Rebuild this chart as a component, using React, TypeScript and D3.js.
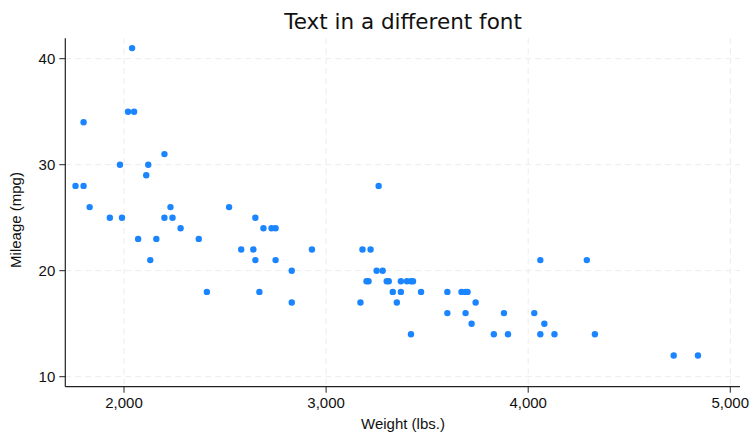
import React from "react";
import * as d3 from "d3";

const weight = [2930,3350,2640,3250,4080,3670,2230,3280,3880,3400,4330,3900,4290,2110,3690,3180,3220,2750,3430,2120,3600,3600,3740,1800,2650,4840,4720,3830,2580,4060,3720,3370,4130,2830,4060,3310,3300,3690,3370,2730,4030,3260,1800,2200,2520,3330,3700,3470,3210,3200,3420,2690,2830,2070,2650,2370,2020,2280,2750,2130,2240,1760,1980,3420,1830,2050,2410,2200,2670,2160,2040,1930,1990,3170];
const mpg = [22,17,22,20,15,18,26,20,16,19,14,14,21,29,16,22,22,24,19,30,18,16,17,28,21,12,12,14,22,14,15,18,14,20,21,19,19,18,19,24,16,28,34,25,26,18,18,18,19,19,19,24,17,23,25,23,35,24,21,21,25,28,30,14,26,35,18,31,18,23,41,25,25,17];
const xTicks = [2000, 3000, 4000, 5000];
const yTicks = [10, 20, 30, 40];

export default function App() {
  const W = 752, H = 432;
  const left = 65.3, right = 740, top = 38.3, bottom = 386.7;
  const x = d3.scaleLinear().domain([2000, 5000]).range([124, 730.3]);
  const y = d3.scaleLinear().domain([10, 40]).range([376.7, 58.7]);
  const fmt = d3.format(",");
  const tickFont = "'Liberation Sans', Arial, sans-serif";
  return (
    <svg width={W} height={H} style={{ position: "absolute", left: 0, top: 0, background: "#fff" }}>
      <rect x={0} y={0} width={W} height={H} fill="#fff" />
      {xTicks.map((t) => (
        <line key={"gx" + t} x1={x(t)} x2={x(t)} y1={top} y2={bottom} stroke="#ececec" strokeWidth={1} strokeDasharray="6,4" />
      ))}
      {yTicks.map((t) => (
        <line key={"gy" + t} x1={left} x2={right} y1={y(t)} y2={y(t)} stroke="#ececec" strokeWidth={1} strokeDasharray="6,4" />
      ))}
      <line x1={left} x2={left} y1={top} y2={bottom} stroke="#222" strokeWidth={1.2} />
      <line x1={left} x2={right} y1={bottom} y2={bottom} stroke="#222" strokeWidth={1.2} />
      {xTicks.map((t) => (
        <g key={"tx" + t}>
          <line x1={x(t)} x2={x(t)} y1={bottom} y2={bottom + 6} stroke="#222" strokeWidth={1} />
          <text x={x(t)} y={bottom + 21} textAnchor="middle" fontFamily={tickFont} fontSize={15} fill="#111">{fmt(t)}</text>
        </g>
      ))}
      {yTicks.map((t) => (
        <g key={"ty" + t}>
          <line x1={left - 6} x2={left} y1={y(t)} y2={y(t)} stroke="#222" strokeWidth={1} />
          <text x={left - 10} y={y(t) + 5.5} textAnchor="end" fontFamily={tickFont} fontSize={15} fill="#111">{t}</text>
        </g>
      ))}
      {weight.map((w, i) => (
        <circle key={i} cx={x(w)} cy={y(mpg[i])} r={3.2} fill="#1a85ff" />
      ))}
      <text x={403} y={29} textAnchor="middle" fontFamily="'DejaVu Sans', sans-serif" fontSize={21.5} fill="#111">Text in a different font</text>
      <text x={403} y={429} textAnchor="middle" fontFamily={tickFont} fontSize={15} fill="#111">Weight (lbs.)</text>
      <text transform={`translate(21,220) rotate(-90)`} textAnchor="middle" fontFamily={tickFont} fontSize={15} fill="#111">Mileage (mpg)</text>
    </svg>
  );
}
